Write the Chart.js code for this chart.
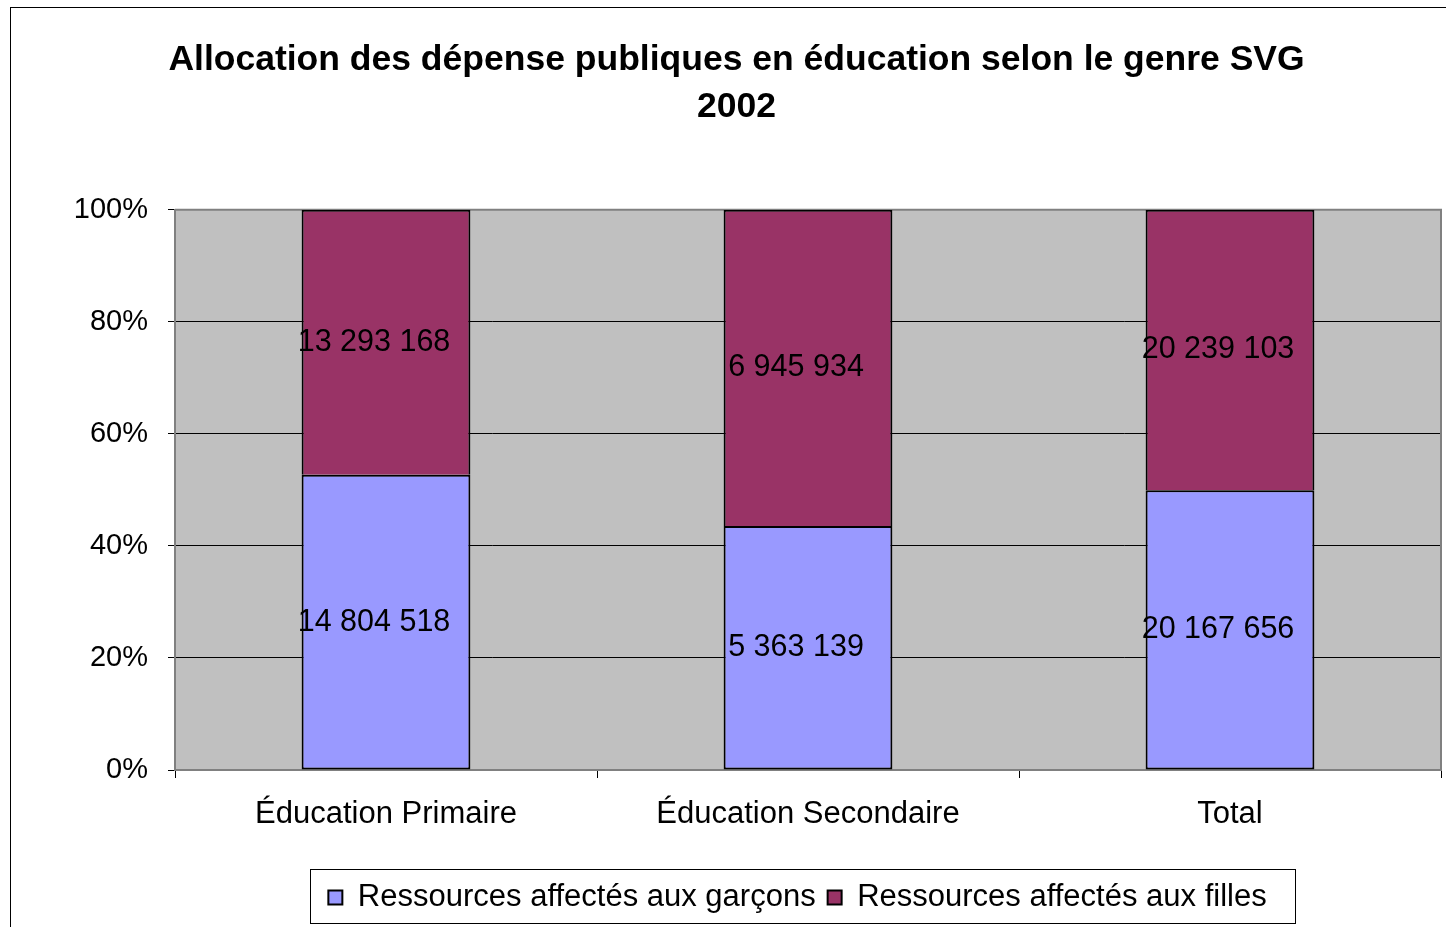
<!DOCTYPE html>
<html>
<head>
<meta charset="utf-8">
<script src="https://cdn.jsdelivr.net/npm/chart.js@4/dist/chart.umd.min.js"></script>
<style>
  html, body { margin: 0; padding: 0; background: #fff; }
  #wrap { width: 1446px; height: 927px; position: relative; }
</style>
</head>
<body>
<div id="wrap"><canvas id="chart"></canvas></div>
<script>
const categories = ['Éducation Primaire', 'Éducation Secondaire', 'Total'];
const garcons = [14804518, 5363139, 20167656];
const filles = [13293168, 6945934, 20239103];
const seriesNames = ['Ressources affectés aux garçons', 'Ressources affectés aux filles'];
const titleLines = ['Allocation des dépense publiques en éducation selon le genre SVG', '2002'];

const FONT = "'Liberation Sans', Arial, sans-serif";

// shares of each category total, for the 100% stack
const totals = categories.map((_, i) => garcons[i] + filles[i]);
const pct = arr => arr.map((v, i) => v / totals[i] * 100);

const fmt = v => String(v).replace(/\B(?=(\d{3})+(?!\d))/g, ' ');

const frame = {
  id: 'frame',
  afterLayout(chart) {
    // legend sits a bit right of centre in the original
    const lg = chart.legend;
    if (lg) { lg.left += 61; lg.right += 61; }
  },
  beforeDraw(chart) {
    const { ctx, chartArea: a } = chart;
    ctx.save();
    ctx.fillStyle = '#C0C0C0';
    ctx.fillRect(a.left, a.top, a.right - a.left, a.bottom - a.top);
    ctx.strokeStyle = '#000';
    ctx.lineWidth = 1;
    ctx.strokeRect(10.5, 7.5, 1600, 1200);
    ctx.restore();
  },
  beforeDatasetsDraw(chart) {
    const { ctx, chartArea: a } = chart;
    ctx.save();
    ctx.strokeStyle = '#808080';
    ctx.lineWidth = 2;
    ctx.beginPath();
    ctx.moveTo(a.left, a.top);
    ctx.lineTo(a.right, a.top);
    ctx.lineTo(a.right, a.bottom);
    ctx.stroke();
    ctx.restore();
  },
  afterDatasetsDraw(chart) {
    const { ctx } = chart;
    const raw = [garcons, filles];
    ctx.save();
    ctx.font = '30.5px ' + FONT;
    ctx.fillStyle = '#000';
    ctx.textAlign = 'center';
    ctx.textBaseline = 'middle';
    chart.data.datasets.forEach((ds, d) => {
      chart.getDatasetMeta(d).data.forEach((bar, i) => {
        ctx.fillText(fmt(raw[d][i]), bar.x - 12, (bar.y + bar.base) / 2);
      });
    });
    ctx.restore();
  },
  afterDraw(chart) {
    const lg = chart.legend;
    if (!lg || !lg.legendHitBoxes.length) return;
    const boxes = lg.legendHitBoxes;
    const l = Math.min(...boxes.map(b => b.left)) - 18;
    const r = Math.max(...boxes.map(b => b.left + b.width)) + 29;
    const ctx = chart.ctx;
    ctx.save();
    ctx.strokeStyle = '#000';
    ctx.lineWidth = 1;
    ctx.strokeRect(Math.round(l) + 0.5, 869.5, Math.round(r - l), 54);
    ctx.restore();
  }
};

new Chart(document.getElementById('chart'), {
  type: 'bar',
  data: {
    labels: categories,
    datasets: [
      { label: seriesNames[0], data: pct(garcons), backgroundColor: '#9999FF', borderColor: '#000', borderWidth: 2, borderSkipped: false },
      { label: seriesNames[1], data: pct(filles), backgroundColor: '#993366', borderColor: '#000', borderWidth: 2, borderSkipped: 'bottom' }
    ]
  },
  options: {
    responsive: true,
    maintainAspectRatio: false,
    animation: false,
    layout: { padding: { left: 32, right: 5, top: 0, bottom: 4 } },
    datasets: { bar: { barPercentage: 0.4, categoryPercentage: 1 } },
    scales: {
      x: {
        stacked: true,
        grid: { offset: true, drawOnChartArea: false, tickLength: 8, tickColor: '#000' },
        border: { color: '#808080', width: 2 },
        ticks: { color: '#000', font: { family: FONT, size: 31 }, padding: 18 },
        afterFit(scale) { scale.height = 100; }
      },
      y: {
        stacked: true,
        min: 0,
        max: 100,
        grid: {
          color: ctx => (ctx.tick.value === 0 || ctx.tick.value === 100) ? '#808080' : '#000',
          tickLength: 7,
          tickColor: '#000'
        },
        border: { color: '#808080', width: 2 },
        ticks: {
          stepSize: 20,
          color: '#000',
          padding: 20,
          font: { family: FONT, size: 29 },
          callback: v => v + '%'
        },
        afterFit(scale) { scale.width = 143; }
      }
    },
    plugins: {
      title: {
        display: true,
        text: titleLines,
        color: '#000',
        font: { family: FONT, size: 35.5, weight: 'bold', lineHeight: 1.32 },
        padding: { top: 36.5, bottom: 79.5 }
      },
      legend: {
        position: 'bottom',
        labels: {
          color: '#000',
          font: { family: FONT, size: 31 },
          boxWidth: 14,
          boxHeight: 14,
          padding: 12,
          useBorderRadius: false
        }
      },
      tooltip: { enabled: false }
    }
  },
  plugins: [frame]
});
</script>
</body>
</html>
